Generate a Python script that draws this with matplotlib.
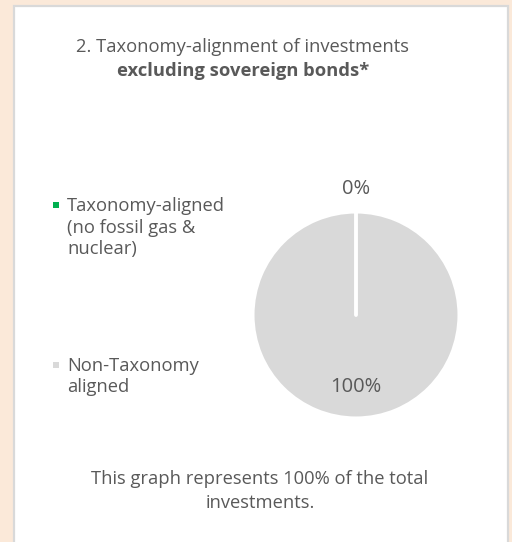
import matplotlib.pyplot as plt
from matplotlib.patches import Rectangle
import numpy as np

# data
labels = ["Taxonomy-aligned\n(no fossil gas &\nnuclear)", "Non-Taxonomy\naligned"]
values = [0, 100]
colors = ["#00b050", "#d9d9d9"]
title_1 = "2. Taxonomy-alignment of investments"
title_2 = "excluding sovereign bonds*"
footer = "This graph represents 100% of the total\ninvestments."

W, H = 512, 542
txt = "#595959"
fs = 13.2
plt.rcParams['font.family'] = ['Open Sans', 'DejaVu Sans']

fig = plt.figure(figsize=(W / 100, H / 100), dpi=100)
fig.patch.set_facecolor("#fbe9d9")

def fx(px):
    return px / W

def fy(py):
    return 1 - py / H

# white panel with grey border (behind everything)
fig.add_artist(Rectangle((fx(14), fy(H + 5)), fx(494), (H - 1) / H,
                         transform=fig.transFigure, facecolor="white",
                         edgecolor="#d9d9d9", linewidth=1.6, zorder=-5))

# titles
fig.text(fx(243), fy(47), title_1, ha="center", va="center", fontsize=fs, color=txt)
fig.text(fx(243), fy(71), title_2, ha="center", va="center", fontsize=fs,
         color=txt, fontweight="bold")

# pie
cx, cy, r = 356, 315, 103
ax = fig.add_axes([fx(cx - r), fy(cy + r), fx(2 * r), 2 * r / H])
wedges, _ = ax.pie(values, colors=colors, startangle=90, counterclock=False,
                   wedgeprops=dict(edgecolor="white", linewidth=2.2))
# white separator where the 0% slice sits (full-circle wedge has no radial edge)
ang = np.deg2rad(wedges[0].theta1)
ax.plot([0, np.cos(ang)], [0, np.sin(ang)], color="white", lw=2.8,
        solid_capstyle="round")
ax.set_xlim(-1, 1)
ax.set_ylim(-1, 1)
ax.set_aspect("auto")
ax.axis("off")

pct_pos = [1.22, -0.70]
for v, y in zip(values, pct_pos):
    ax.text(0, y, f"{v}%", ha="center", va="center", fontsize=14.5, color=txt,
            clip_on=False)

# legend
leg_y = [205, 365]
for lab, c, y in zip(labels, colors, leg_y):
    fig.add_artist(Rectangle((fx(53), fy(y + 3)), fx(6), 6 / H,
                             transform=fig.transFigure, facecolor=c, edgecolor="none"))
    fig.text(fx(67), fy(y - 8), lab, ha="left", va="top", fontsize=fs,
             color=txt, linespacing=1.25)

# footer
fig.text(fx(260), fy(470), footer, ha="center", va="top", fontsize=fs,
         color=txt, linespacing=1.45)

fig.savefig("out.png", dpi=100, facecolor=fig.get_facecolor())
